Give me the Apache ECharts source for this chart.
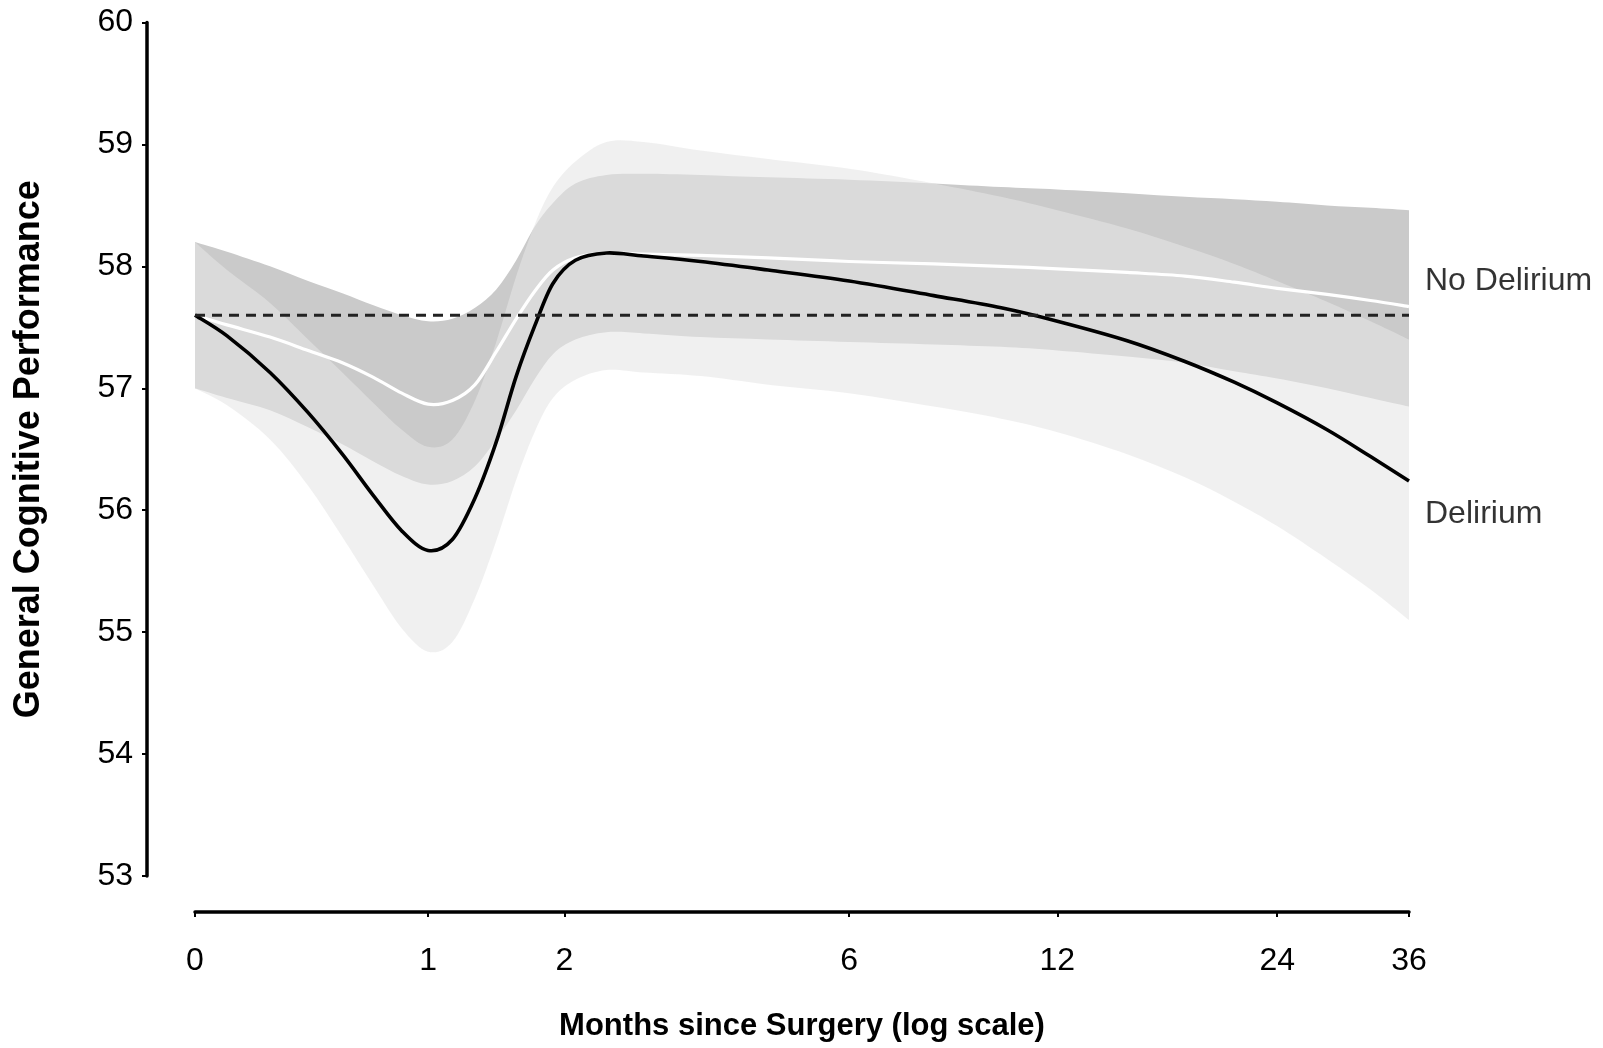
<!DOCTYPE html>
<html>
<head>
<meta charset="utf-8">
<script src="https://cdn.jsdelivr.net/npm/echarts@6/dist/echarts.min.js"></script>
<style>
html,body{margin:0;padding:0;background:#fff;}
#c{width:1603px;height:1048px;}
</style>
</head>
<body>
<div id="c"></div>
<script>
// ---- data ----
const months = [0, 0.1, 0.25, 0.4, 0.55, 0.7, 0.85, 1, 1.15, 1.3, 1.45, 1.6, 1.75, 1.9, 2.1, 2.4, 2.8, 3.5, 4.5, 6, 8, 10, 12, 15, 18, 21, 24, 28, 32, 36];
const deliriumMean = [57.60, 57.43, 57.13, 56.80, 56.46, 56.12, 55.83, 55.67, 55.76, 56.10, 56.56, 57.10, 57.52, 57.86, 58.05, 58.11, 58.085, 58.04, 57.97, 57.88, 57.76, 57.66, 57.55, 57.39, 57.22, 57.05, 56.88, 56.66, 56.44, 56.24];
const noDeliriumMean = [57.60, 57.52, 57.42, 57.31, 57.21, 57.09, 56.96, 56.87, 56.90, 57.03, 57.30, 57.57, 57.80, 57.97, 58.07, 58.11, 58.10, 58.09, 58.07, 58.04, 58.02, 58.00, 57.98, 57.95, 57.92, 57.87, 57.82, 57.77, 57.72, 57.67];
const noDeliriumUpper = [58.20, 58.12, 58.00, 57.88, 57.78, 57.68, 57.60, 57.55, 57.57, 57.66, 57.81, 58.05, 58.33, 58.52, 58.68, 58.75, 58.76, 58.75, 58.73, 58.71, 58.68, 58.65, 58.63, 58.60, 58.57, 58.55, 58.53, 58.50, 58.48, 58.46];
const noDeliriumLower = [57.00, 56.92, 56.82, 56.68, 56.54, 56.40, 56.28, 56.21, 56.24, 56.36, 56.58, 56.82, 57.08, 57.28, 57.40, 57.46, 57.45, 57.42, 57.40, 57.38, 57.36, 57.34, 57.31, 57.26, 57.21, 57.14, 57.08, 57.00, 56.92, 56.85];
const deliriumUpper = [58.20, 57.97, 57.70, 57.40, 57.13, 56.88, 56.66, 56.52, 56.58, 56.90, 57.38, 57.92, 58.35, 58.65, 58.86, 59.02, 59.02, 58.95, 58.88, 58.80, 58.68, 58.57, 58.46, 58.31, 58.16, 58.02, 57.88, 57.71, 57.55, 57.40];
const deliriumLower = [57.00, 56.86, 56.58, 56.20, 55.78, 55.38, 55.03, 54.84, 54.92, 55.28, 55.75, 56.25, 56.65, 56.92, 57.07, 57.15, 57.13, 57.10, 57.03, 56.96, 56.85, 56.75, 56.64, 56.46, 56.27, 56.07, 55.87, 55.60, 55.35, 55.10];
const baselineValue = 57.6;
const tickMonths = [0, 1, 2, 6, 12, 24, 36];
const tickLabels = ['0', '1', '2', '6', '12', '24', '36'];
const groupNames = ['No Delirium', 'Delirium'];
const groupLabelValues = [57.88, 55.97];
const yMin = 53, yMax = 60, yStep = 1;

// ---- helpers ----
const lx = m => Math.log(m + 1);          // log(months + 1) axis scale
const pairs = vals => vals.map((v, i) => [lx(months[i]), v]);
const tickX = tickMonths.map(lx);
const xMax = lx(months[months.length - 1]);

function curveTo(pts) {
  // Catmull-Rom -> cubic bezier segments
  let d = '';
  for (let i = 0; i < pts.length - 1; i++) {
    const p0 = pts[Math.max(i - 1, 0)], p1 = pts[i], p2 = pts[i + 1], p3 = pts[Math.min(i + 2, pts.length - 1)];
    const c1 = [p1[0] + (p2[0] - p0[0]) / 6, p1[1] + (p2[1] - p0[1]) / 6];
    const c2 = [p2[0] - (p3[0] - p1[0]) / 6, p2[1] - (p3[1] - p1[1]) / 6];
    d += ' C' + c1[0] + ' ' + c1[1] + ' ' + c2[0] + ' ' + c2[1] + ' ' + p2[0] + ' ' + p2[1];
  }
  return d;
}
function band(upper, lower, fill, name) {
  return {
    type: 'custom', name: name, silent: true,
    data: [[0, upper[0]]],
    renderItem: function (params, api) {
      const up = upper.map((v, i) => api.coord([lx(months[i]), v]));
      const lo = lower.map((v, i) => api.coord([lx(months[i]), v])).reverse();
      const d = 'M' + up[0][0] + ' ' + up[0][1] + curveTo(up) +
        ' L' + lo[0][0] + ' ' + lo[0][1] + curveTo(lo) + ' Z';
      return { type: 'path', shape: { pathData: d }, style: { fill: fill, stroke: null } };
    }
  };
}
function meanLine(values, color, width, name) {
  return {
    type: 'custom', name: name, silent: true,
    data: [[0, values[0]]],
    renderItem: function (params, api) {
      const pts = values.map((v, i) => api.coord([lx(months[i]), v]));
      const d = 'M' + pts[0][0] + ' ' + pts[0][1] + curveTo(pts);
      return { type: 'path', shape: { pathData: d }, style: { fill: null, stroke: color, lineWidth: width, lineJoin: 'round' } };
    }
  };
}

const tickFont = "'Liberation Sans Narrow', 'Arial Narrow', 'Liberation Sans', Arial, sans-serif";

const chart = echarts.init(document.getElementById('c'), null, { renderer: 'canvas' });
chart.setOption({
  animation: false,
  backgroundColor: '#ffffff',
  grid: { left: 195, right: 194, top: 22.5, bottom: 172, containLabel: false },
  xAxis: {
    type: 'value', min: 0, max: xMax, offset: 36,
    name: 'Months since Surgery (log scale)', nameLocation: 'middle', nameGap: 99,
    nameTextStyle: { fontFamily: tickFont, fontWeight: 'bold', fontSize: 31, color: '#000' },
    axisLine: { show: true, onZero: false, lineStyle: { color: '#000', width: 3.5 } },
    axisTick: { show: true, customValues: tickX, length: 5, lineStyle: { color: '#000', width: 2 } },
    axisLabel: {
      customValues: tickX, margin: 33, fontFamily: tickFont, fontSize: 32, color: '#000',
      formatter: function (v) {
        for (let i = 0; i < tickX.length; i++) if (Math.abs(tickX[i] - v) < 1e-6) return tickLabels[i];
        return '';
      }
    },
    splitLine: { show: false }
  },
  yAxis: {
    type: 'value', min: yMin, max: yMax, interval: yStep, offset: 48,
    name: 'General Cognitive Performance', nameLocation: 'middle', nameGap: 100, nameRotate: 90,
    nameTextStyle: { fontFamily: "'Liberation Sans', Arial, sans-serif", fontWeight: 'bold', fontSize: 36, color: '#000' },
    axisLine: { show: true, onZero: false, lineStyle: { color: '#000', width: 3.5 } },
    axisTick: { show: true, length: 5, lineStyle: { color: '#000', width: 2 } },
    axisLabel: { margin: 14, fontFamily: tickFont, fontSize: 32, color: '#000' },
    splitLine: { show: false }
  },
  series: [
    band(noDeliriumUpper, noDeliriumLower, '#cacaca', 'No Delirium CI'),
    band(deliriumUpper, deliriumLower, 'rgba(229,229,229,0.585)', 'Delirium CI'),
    {
      type: 'line', name: 'Baseline', silent: true, symbol: 'none',
      data: [[0, baselineValue], [xMax, baselineValue]],
      lineStyle: { color: '#222', width: 3, type: [10, 7] }
    },
    meanLine(noDeliriumMean, '#ffffff', 3.2, 'No Delirium'),
    meanLine(deliriumMean, '#000000', 3.6, 'Delirium'),
    {
      type: 'scatter', name: 'labels', silent: true, symbolSize: 0,
      data: groupNames.map((n, i) => ({ value: [xMax, groupLabelValues[i]], name: n })),
      label: {
        show: true, position: 'right', distance: 16, formatter: '{b}',
        fontFamily: tickFont, fontSize: 32, color: '#000'
      }
    }
  ]
});
</script>
</body>
</html>
